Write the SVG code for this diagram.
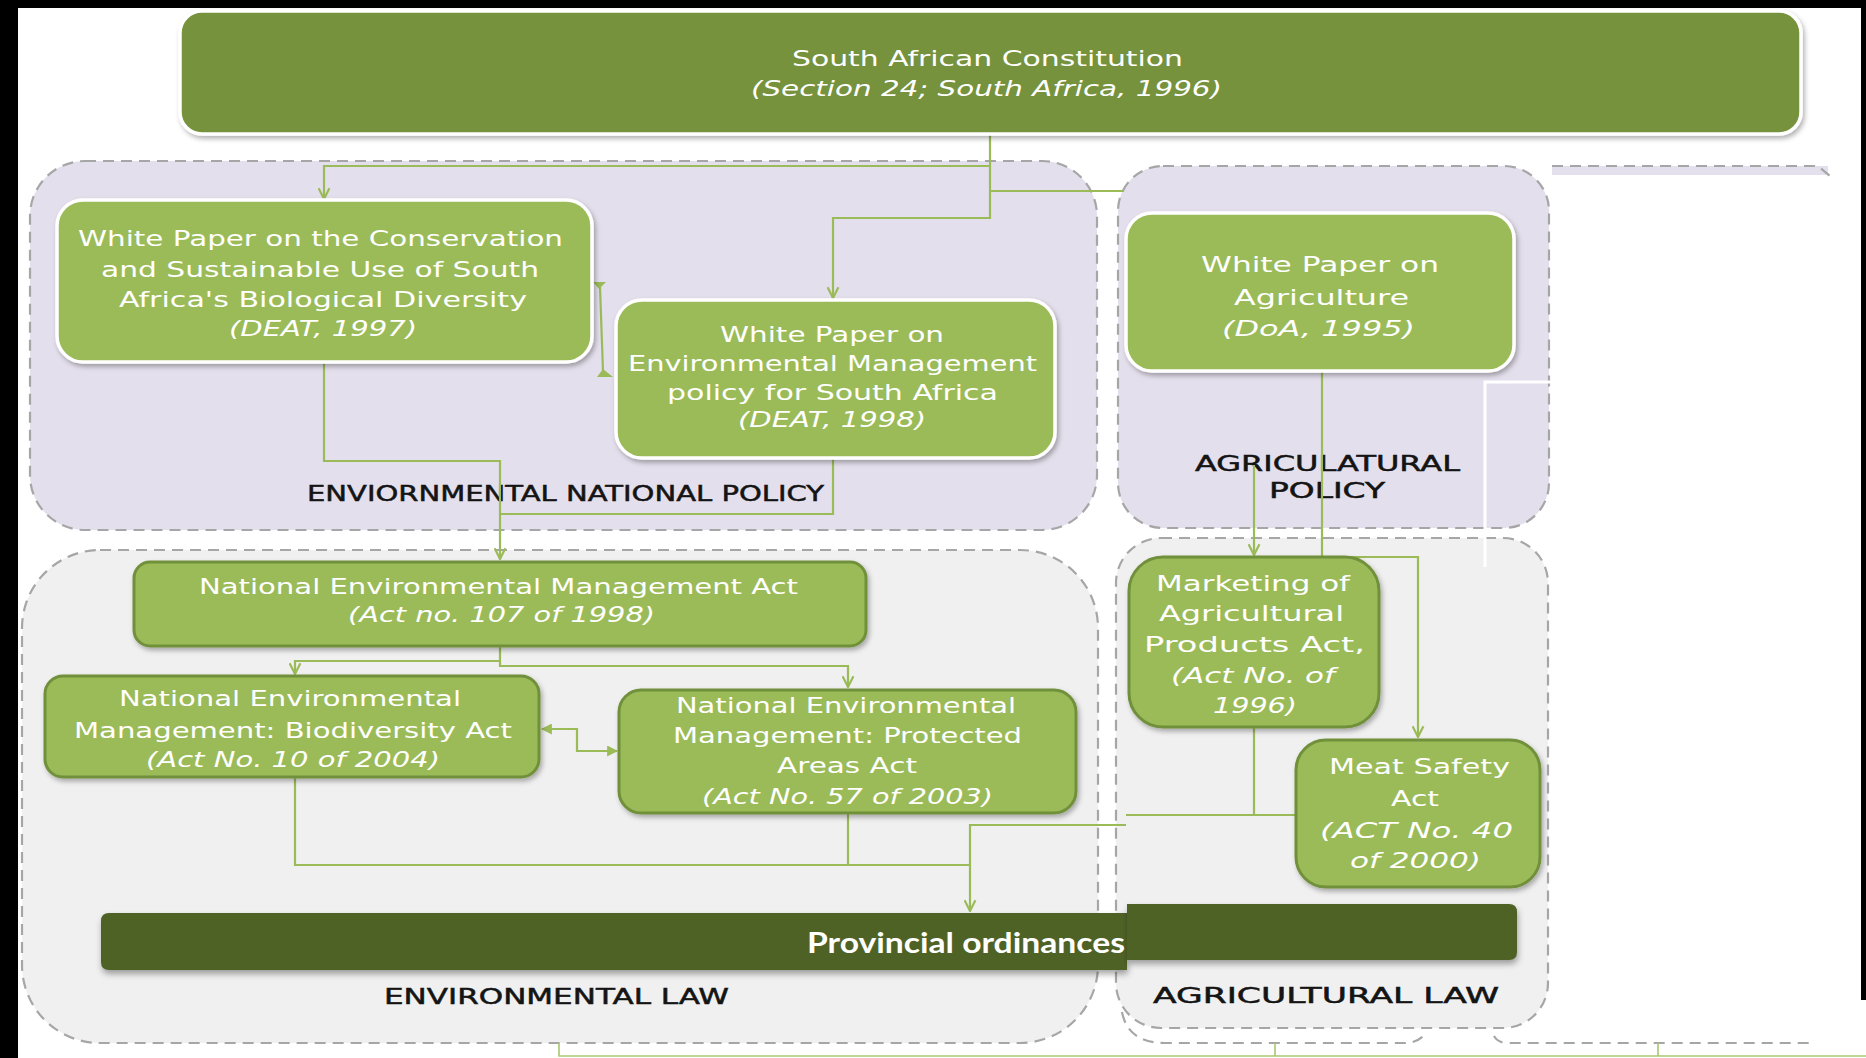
<svg xmlns="http://www.w3.org/2000/svg" width="1866" height="1058" viewBox="0 0 1866 1058">
  <defs>
    <filter id="shadow" x="-10%" y="-10%" width="120%" height="130%">
      <feDropShadow dx="2" dy="3" stdDeviation="2.5" flood-color="#000" flood-opacity="0.3"/>
    </filter>
    <filter id="softShadow" x="-10%" y="-10%" width="120%" height="140%">
      <feDropShadow dx="1" dy="4" stdDeviation="3" flood-color="#000" flood-opacity="0.35"/>
    </filter>
    <marker id="openArrow" viewBox="0 0 12 12" refX="11" refY="6" markerWidth="13" markerHeight="13" markerUnits="userSpaceOnUse" orient="auto">
      <path d="M1,1 L11,6 L1,11" fill="none" stroke="#9BBB59" stroke-width="2"/>
    </marker>
    <marker id="solidArrow" viewBox="0 0 10 10" refX="9" refY="5" markerWidth="11" markerHeight="11" markerUnits="userSpaceOnUse" orient="auto-start-reverse">
      <path d="M0,0 L10,5 L0,10 Z" fill="#9BBB59"/>
    </marker>
  </defs>
  <style>
    .frame { fill: #000; }
    .policy { fill: #E4DFEC; stroke: #A6A6A6; stroke-width: 2.2; stroke-dasharray: 11 7; }
    .law { fill: #F0F0F0; stroke: #A6A6A6; stroke-width: 2.2; stroke-dasharray: 11 7; }
    .dash { fill: none; stroke: #A6A6A6; stroke-width: 2.2; stroke-dasharray: 11 7; }
    .top { fill: #76923C; stroke: #FFFFFF; stroke-width: 3.5; }
    .paper { fill: #9BBB59; stroke: #FFFFFF; stroke-width: 3.5; }
    .act { fill: #9BBB59; stroke: #71903A; stroke-width: 3; }
    .bar { fill: #4F6228; }
    .t { font-family: "DejaVu Sans", "Liberation Sans", sans-serif; font-size: 22px; fill: #FFFFFF; }
    .i { font-style: italic; }
    .lbl { font-family: "DejaVu Sans", "Liberation Sans", sans-serif; font-size: 21px; fill: #141414; stroke: #141414; stroke-width: 0.5; }
    .prov { font-family: Lato, "Liberation Sans", sans-serif; font-size: 29px; font-weight: bold; fill: #FFFFFF; }
    .conn { fill: none; stroke: #9BBB59; stroke-width: 2.2; }
    .thin { fill: none; stroke: #A9C773; stroke-width: 1.6; }
    .gap { fill: none; stroke: #FFFFFF; stroke-width: 3; }
  </style>

  <rect width="1866" height="1058" fill="#FFFFFF"/>

  <!-- container panels -->
  <g id="env-policy">
    <rect class="policy" x="30" y="161" width="1067" height="369" rx="55"/>
    <text class="lbl" x="307" y="501" textLength="517" lengthAdjust="spacingAndGlyphs">ENVIORNMENTAL NATIONAL POLICY</text>
  </g>
  <g id="agri-policy">
    <rect class="policy" x="1118" y="166" width="431" height="362" rx="45"/>
    <text class="lbl" x="1195" y="471" textLength="265" lengthAdjust="spacingAndGlyphs">AGRICULATURAL</text>
    <text class="lbl" x="1269" y="498" textLength="116" lengthAdjust="spacingAndGlyphs">POLICY</text>
  </g>
  <g id="third-panel-edges">
    <rect x="1552" y="166" width="276" height="9" fill="#E4DFEC"/>
    <path class="dash" d="M1552,166 H1818 L1830,176"/>
    <path class="dash" d="M1494,1036 Q1498,1043 1508,1043 H1814"/>
  </g>
  <g id="env-law">
    <rect class="law" x="22" y="550" width="1076" height="493" rx="78"/>
    <text class="lbl" x="384" y="1004" textLength="345" lengthAdjust="spacingAndGlyphs">ENVIRONMENTAL LAW</text>
  </g>
  <g id="agri-law">
    <rect class="law" x="1116" y="538" width="432" height="490" rx="45"/>
    <path class="dash" d="M1122,1012 Q1128,1043 1165,1043 H1405 Q1418,1043 1426,1033"/>
    <text class="lbl" x="1153" y="1003" textLength="346" lengthAdjust="spacingAndGlyphs">AGRICULTURAL LAW</text>
  </g>
  <path id="panel-seam" class="gap" d="M1551,382 H1485 V567"/>

  <!-- connectors -->
  <g id="connectors">
    <path class="conn" d="M990,135 V218 H833 V298" marker-end="url(#openArrow)"/>
    <path class="conn" d="M990,166 H324 V199" marker-end="url(#openArrow)"/>
    <path class="conn" d="M990,191 H1124"/>
    <path class="conn" d="M600,287 L603,372"/>
    <path d="M593,282 H606 L599,289 Z" fill="#9BBB59"/>
    <path d="M597,377 H613 L603,369 Z" fill="#9BBB59"/>
    <path class="conn" d="M324,363 V461 H500 V559" marker-end="url(#openArrow)"/>
    <path class="conn" d="M833,459 V514 H500"/>
    <path class="conn" d="M500,646 V661 H295 V674" marker-end="url(#openArrow)"/>
    <path class="conn" d="M500,661 V666 H848 V687" marker-end="url(#openArrow)"/>
    <path class="conn" d="M542,729 H577 V751 H617" marker-start="url(#solidArrow)" marker-end="url(#solidArrow)"/>
    <path class="conn" d="M295,777 V865 H970"/>
    <path class="conn" d="M848,813 V865"/>
    <path class="conn" d="M1126,825 H970 V911" marker-end="url(#openArrow)"/>
    <path class="conn" d="M1254,727 V815 H1126"/>
    <path class="conn" d="M1254,815 H1296"/>
    <path class="conn" d="M1254,465 V555" marker-end="url(#openArrow)"/>
    <path class="conn" d="M1322,372 V557 H1418 V737" marker-end="url(#openArrow)"/>
    <path class="thin" d="M559,1043 V1056 H1866 M1275,1043 V1056 M1658,1043 V1056"/>
  </g>

  <!-- nodes -->
  <g id="constitution">
    <rect class="top" x="180" y="11" width="1621" height="123" rx="22" filter="url(#shadow)"/>
    <text class="t" x="792" y="66" textLength="391" lengthAdjust="spacingAndGlyphs">South African Constitution</text>
    <text class="t i" x="751" y="96" textLength="471" lengthAdjust="spacingAndGlyphs">(Section 24; South Africa, 1996)</text>
  </g>
  <g id="wp-biodiversity">
    <rect class="paper" x="57" y="200" width="535" height="162" rx="26" filter="url(#shadow)"/>
    <text class="t" x="78" y="246" textLength="485" lengthAdjust="spacingAndGlyphs">White Paper on the Conservation</text>
    <text class="t" x="101" y="277" textLength="438" lengthAdjust="spacingAndGlyphs">and Sustainable Use of South</text>
    <text class="t" x="119" y="307" textLength="408" lengthAdjust="spacingAndGlyphs">Africa's Biological Diversity</text>
    <text class="t i" x="229" y="336" textLength="188" lengthAdjust="spacingAndGlyphs">(DEAT, 1997)</text>
  </g>
  <g id="wp-environment">
    <rect class="paper" x="616" y="300" width="439" height="158" rx="26" filter="url(#shadow)"/>
    <text class="t" x="720" y="342" textLength="224" lengthAdjust="spacingAndGlyphs">White Paper on</text>
    <text class="t" x="628" y="371" textLength="409" lengthAdjust="spacingAndGlyphs">Environmental Management</text>
    <text class="t" x="667" y="400" textLength="331" lengthAdjust="spacingAndGlyphs">policy for South Africa</text>
    <text class="t i" x="738" y="427" textLength="188" lengthAdjust="spacingAndGlyphs">(DEAT, 1998)</text>
  </g>
  <g id="wp-agriculture">
    <rect class="paper" x="1126" y="213" width="388" height="158" rx="26" filter="url(#shadow)"/>
    <text class="t" x="1201" y="272" textLength="238" lengthAdjust="spacingAndGlyphs">White Paper on</text>
    <text class="t" x="1234" y="305" textLength="175" lengthAdjust="spacingAndGlyphs">Agriculture</text>
    <text class="t i" x="1222" y="336" textLength="193" lengthAdjust="spacingAndGlyphs">(DoA, 1995)</text>
  </g>
  <g id="nema">
    <rect class="act" x="134" y="562" width="732" height="84" rx="16" filter="url(#shadow)"/>
    <text class="t" x="199" y="594" textLength="599" lengthAdjust="spacingAndGlyphs">National Environmental Management Act</text>
    <text class="t i" x="348" y="622" textLength="307" lengthAdjust="spacingAndGlyphs">(Act no. 107 of 1998)</text>
  </g>
  <g id="nem-biodiversity">
    <rect class="act" x="45" y="676" width="494" height="101" rx="18" filter="url(#shadow)"/>
    <text class="t" x="119" y="706" textLength="342" lengthAdjust="spacingAndGlyphs">National Environmental</text>
    <text class="t" x="74" y="738" textLength="438" lengthAdjust="spacingAndGlyphs">Management: Biodiversity Act</text>
    <text class="t i" x="146" y="767" textLength="294" lengthAdjust="spacingAndGlyphs">(Act No. 10 of 2004)</text>
  </g>
  <g id="nem-protected">
    <rect class="act" x="619" y="690" width="457" height="123" rx="22" filter="url(#shadow)"/>
    <text class="t" x="676" y="713" textLength="340" lengthAdjust="spacingAndGlyphs">National Environmental</text>
    <text class="t" x="673" y="743" textLength="349" lengthAdjust="spacingAndGlyphs">Management: Protected</text>
    <text class="t" x="777" y="773" textLength="140" lengthAdjust="spacingAndGlyphs">Areas Act</text>
    <text class="t i" x="702" y="804" textLength="291" lengthAdjust="spacingAndGlyphs">(Act No. 57 of 2003)</text>
  </g>
  <g id="marketing-act">
    <rect class="act" x="1129" y="557" width="250" height="170" rx="34" filter="url(#shadow)"/>
    <text class="t" x="1156" y="591" textLength="194" lengthAdjust="spacingAndGlyphs">Marketing of</text>
    <text class="t" x="1159" y="621" textLength="185" lengthAdjust="spacingAndGlyphs">Agricultural</text>
    <text class="t" x="1144" y="652" textLength="221" lengthAdjust="spacingAndGlyphs">Products Act,</text>
    <text class="t i" x="1171" y="683" textLength="164" lengthAdjust="spacingAndGlyphs">(Act No. of</text>
    <text class="t i" x="1213" y="713" textLength="84" lengthAdjust="spacingAndGlyphs">1996)</text>
  </g>
  <g id="meat-safety-act">
    <rect class="act" x="1296" y="740" width="244" height="147" rx="30" filter="url(#shadow)"/>
    <text class="t" x="1329" y="774" textLength="181" lengthAdjust="spacingAndGlyphs">Meat Safety</text>
    <text class="t" x="1391" y="806" textLength="48" lengthAdjust="spacingAndGlyphs">Act</text>
    <text class="t i" x="1320" y="838" textLength="193" lengthAdjust="spacingAndGlyphs">(ACT No. 40</text>
    <text class="t i" x="1350" y="868" textLength="131" lengthAdjust="spacingAndGlyphs">of 2000)</text>
  </g>
  <g id="provincial-ordinances">
    <path class="bar" d="M109,913 H1127 V970 H109 Q101,970 101,962 V921 Q101,913 109,913 Z" filter="url(#softShadow)"/>
    <path class="bar" d="M1127,904 H1509 Q1517,904 1517,912 V952 Q1517,960 1509,960 H1127 Z" filter="url(#softShadow)"/>
    <text class="prov" x="807" y="953" textLength="318" lengthAdjust="spacingAndGlyphs">Provincial ordinances</text>
  </g>

  <!-- outer frame -->
  <rect class="frame" x="0" y="0" width="1866" height="8"/>
  <rect class="frame" x="0" y="0" width="18" height="1058"/>
  <rect class="frame" x="1861" y="0" width="5" height="1000"/>
</svg>
